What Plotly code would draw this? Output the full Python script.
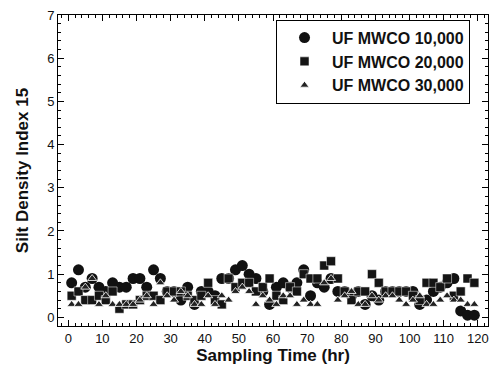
import plotly.graph_objects as go

hours = list(range(1, 120, 2))

mwco_10000 = [0.8, 1.1, 0.7, 0.9, 0.7, 0.6, 0.8, 0.7, 0.7, 0.9,
              0.9, 0.7, 1.1, 0.9, 0.6, 0.6, 0.4, 0.7, 0.3, 0.6,
              0.6, 0.5, 0.9, 0.9, 1.1, 1.2, 1.0, 0.9, 0.6, 0.3,
              0.7, 0.8, 0.7, 0.8, 1.1, 0.5, 0.8, 0.7, 0.9, 0.6,
              0.6, 0.5, 0.6, 0.3, 0.5, 0.4, 0.6, 0.6, 0.6, 0.6,
              0.6, 0.3, 0.4, 0.6, 0.7, 0.8, 0.9, 0.15, 0.05, 0.05]

mwco_20000 = [0.5, 0.6, 0.4, 0.4, 0.5, 0.4, 0.6, 0.2, 0.3, 0.3,
              0.4, 0.5, 0.5, 0.4, 0.6, 0.6, 0.6, 0.5, 0.4, 0.5,
              0.8, 0.4, 0.3, 0.9, 0.7, 0.8, 0.8, 0.6, 0.7, 0.9,
              0.5, 0.4, 0.7, 0.6, 1.0, 0.9, 0.9, 1.2, 1.3, 0.9,
              0.6, 0.4, 0.6, 0.6, 1.0, 0.8, 0.6, 0.6, 0.6, 0.6,
              0.5, 0.4, 0.8, 0.8, 0.7, 0.9, 0.5, 0.6, 0.9, 0.8]

mwco_30000 = [0.3, 0.3, 0.7, 0.9, 0.3, 0.5, 0.3, 0.3, 0.3, 0.3,
              0.4, 0.5, 0.3, 0.8, 0.5, 0.4, 0.6, 0.5, 0.3, 0.3,
              0.5, 0.3, 0.5, 0.4, 0.6, 0.7, 0.6, 0.3, 0.5, 0.4,
              0.3, 0.5, 0.5, 0.3, 0.4, 0.3, 0.3, 0.8, 0.9, 0.4,
              0.5, 0.6, 0.3, 0.3, 0.5, 0.4, 0.5, 0.5, 0.4, 0.3,
              0.4, 0.5, 0.3, 0.3, 0.4, 0.5, 0.4, 0.4, 0.3, 0.3]

series_names = ["UF MWCO 10,000", "UF MWCO 20,000", "UF MWCO 30,000"]
x_ticks = list(range(0, 121, 10))
y_ticks = list(range(0, 8))

fig = go.Figure()
fig.add_trace(go.Scatter(x=hours, y=mwco_10000, mode="markers", name="<b>" + series_names[0] + "</b>",
                         marker=dict(symbol="circle", size=11, color="#111111")))
fig.add_trace(go.Scatter(x=hours, y=mwco_20000, mode="markers", name="<b>" + series_names[1] + "</b>",
                         marker=dict(symbol="square", size=9, color="#151515",
                                     line=dict(color="white", width=0.5))))
fig.add_trace(go.Scatter(x=hours, y=mwco_30000, mode="markers", name="<b>" + series_names[2] + "</b>",
                         marker=dict(symbol="triangle-up", size=8, color="#222222",
                                     line=dict(color="white", width=0.8))))

axis_common = dict(showline=True, linecolor="black", linewidth=1, mirror="ticks",
                   ticks="inside", ticklen=6, tickcolor="black", showgrid=False,
                   zeroline=False, automargin=False, ticklabeloverflow="allow",
                   tickfont=dict(family="Liberation Sans", size=13, color="#111"))

fig.update_xaxes(range=[-3, 123], tickvals=x_ticks,
                 minor=dict(dtick=2, ticks="inside", ticklen=3, tickcolor="black"),
                 title=dict(text="<b>Sampling Time (hr)</b>", font=dict(family="Liberation Sans", size=17, color="#111"), standoff=2),
                 **axis_common)
fig.update_yaxes(range=[-0.2, 7], tickvals=y_ticks,
                 minor=dict(dtick=0.2, ticks="inside", ticklen=3, tickcolor="black"),
                 title=dict(text="<b>Silt Density Index 15</b>", font=dict(family="Liberation Sans", size=17, color="#111"), standoff=14),
                 **axis_common)

# the page body adds an 8px margin, so the figure is sized to fit the remaining window
fig.update_layout(
    width=495, height=366,
    margin=dict(l=50, r=15, t=7, b=48),
    paper_bgcolor="white", plot_bgcolor="white",
    legend=dict(x=0.507, y=0.985, xanchor="left", yanchor="top",
                bordercolor="black", borderwidth=1, bgcolor="white",
                font=dict(family="Liberation Sans", size=16, color="#111"),
                itemwidth=45, tracegroupgap=0),
    showlegend=True,
)

fig.write_html("out.html")
